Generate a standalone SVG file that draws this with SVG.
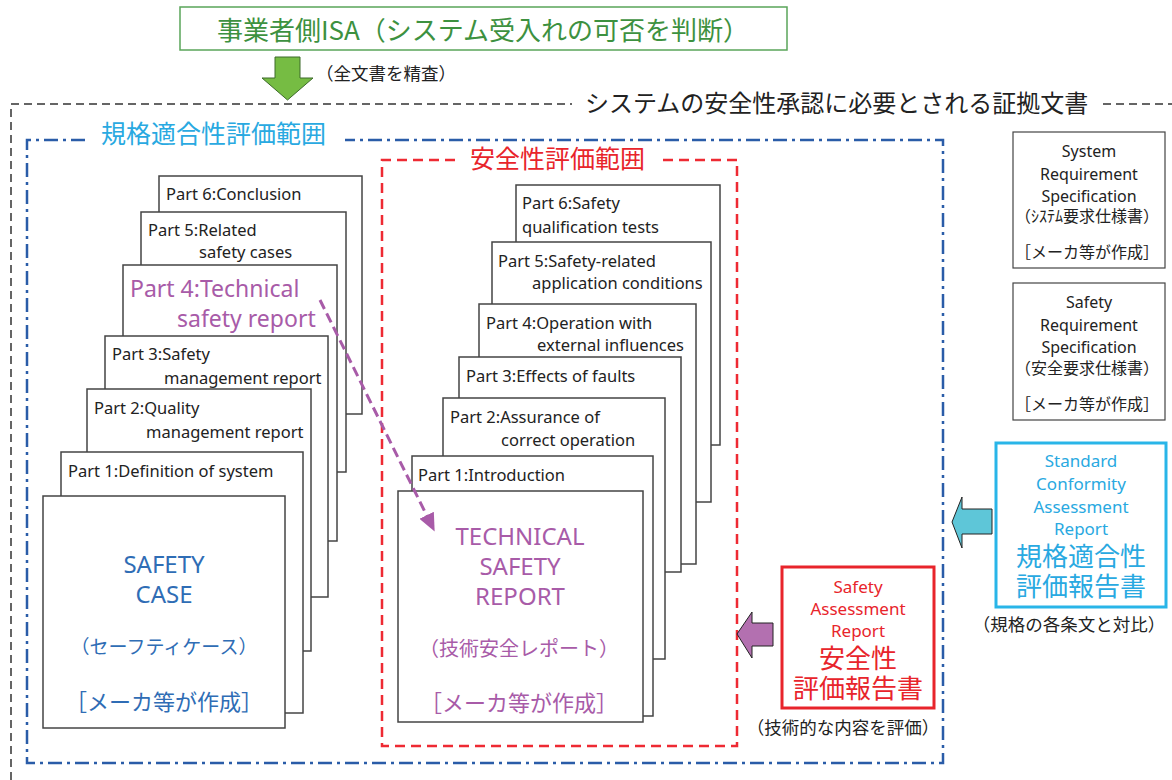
<svg xmlns="http://www.w3.org/2000/svg" width="1172" height="780" viewBox="0 0 1172 780">
<defs>
<style>
text{font-family:"Noto Sans","Noto Sans CJK JP",sans-serif;fill:#222}
.jp{font-family:"Noto Sans CJK JP","Noto Sans",sans-serif}
.pg{fill:#fff;stroke:#444;stroke-width:1.5}
.p{font-size:16.5px}
.c{text-anchor:middle}
.pur{fill:#a85ba8}
.blu{fill:#2f6db5}
.cy{fill:#29a9e1}
.red{fill:#e8242b}
.spec{font-size:16px;text-anchor:middle}
</style>
<marker id="ah" markerUnits="userSpaceOnUse" markerWidth="18" markerHeight="16" viewBox="0 0 18 16" refX="3" refY="8" orient="auto">
<path d="M0,0 L18,8 L0,16 z" fill="#a85ba8"/>
</marker>
</defs>
<rect width="1172" height="780" fill="#fff"/>

<!-- outer evidence frame -->
<g id="evidence-frame">
<path d="M11,780 V104 H572 M1103,104 H1172" fill="none" stroke="#333" stroke-width="1.5" stroke-dasharray="8 5"/>
<text class="jp" x="585" y="112" font-size="24">システムの安全性承認に必要とされる証拠文書</text>
</g>

<!-- ISA top -->
<g id="isa">
<rect x="180" y="7" width="607" height="43" fill="#fff" stroke="#5aa55a" stroke-width="1.5"/>
<text class="jp c" x="483" y="40" font-size="26" style="fill:#3d9140">事業者側ISA（システム受入れの可否を判断）</text>
</g>

<!-- conformity scope -->
<g id="conformity-scope">
<path d="M85,140 H27 V763 H943 V140 H345" fill="none" stroke="#2a5ca8" stroke-width="2.5" stroke-dasharray="14 5 3 5"/>
<text class="jp cy" x="101" y="143" font-size="25">規格適合性評価範囲</text>
</g>

<!-- safety scope -->
<g id="safety-scope">
<path d="M455,160 H382 V746 H737 V160 H662" fill="none" stroke="#ee2a33" stroke-width="2.5" stroke-dasharray="10 6"/>
<text class="jp red" x="470" y="168" font-size="25">安全性評価範囲</text>
</g>

<!-- Safety case stack -->
<g id="sc-part6"><rect class="pg" x="159" y="176" width="203" height="238"/><text class="p" x="166" y="200">Part 6:Conclusion</text></g>
<g id="sc-part5"><rect class="pg" x="141" y="212" width="205" height="260"/><text class="p" x="148" y="236">Part 5:Related</text><text class="p" x="199" y="258">safety cases</text></g>
<g id="sc-part4"><rect class="pg" x="123" y="265" width="214" height="276"/><text class="pur" x="130" y="297" font-size="23">Part 4:Technical</text><text class="pur" x="177" y="327" font-size="23">safety report</text></g>
<g id="sc-part3"><rect class="pg" x="105" y="336" width="223" height="261"/><text class="p" x="112" y="360">Part 3:Safety</text><text class="p" x="164" y="384">management report</text></g>
<g id="sc-part2"><rect class="pg" x="87" y="389" width="224" height="262"/><text class="p" x="94" y="414">Part 2:Quality</text><text class="p" x="146" y="438">management report</text></g>
<g id="sc-part1"><rect class="pg" x="61" y="452" width="242" height="261"/><text class="p" x="68" y="477">Part 1:Definition of system</text></g>
<g id="safety-case">
<rect class="pg" x="43" y="496" width="242" height="232"/>
<text class="c blu" x="164" y="573" font-size="24">SAFETY</text>
<text class="c blu" x="164" y="603" font-size="24">CASE</text>
<text class="jp c blu" x="164" y="654" font-size="19">（セーフティケース）</text>
<text class="jp c blu" x="164" y="710" font-size="22">［メーカ等が作成］</text>
</g>

<!-- Technical safety report stack -->
<g id="tsr-part6"><rect class="pg" x="516" y="185" width="204" height="260"/><text class="p" x="522" y="209">Part 6:Safety</text><text class="p" x="522" y="233">qualification tests</text></g>
<g id="tsr-part5"><rect class="pg" x="492" y="242" width="219" height="260"/><text class="p" x="498" y="267">Part 5:Safety-related</text><text class="p" x="532" y="289">application conditions</text></g>
<g id="tsr-part4"><rect class="pg" x="479" y="304" width="217" height="260"/><text class="p" x="486" y="329">Part 4:Operation with</text><text class="p" x="537" y="351">external influences</text></g>
<g id="tsr-part3"><rect class="pg" x="459" y="357" width="222" height="215"/><text class="p" x="466" y="382">Part 3:Effects of faults</text></g>
<g id="tsr-part2"><rect class="pg" x="443" y="398" width="222" height="261"/><text class="p" x="450" y="423">Part 2:Assurance of</text><text class="p" x="501" y="446">correct operation</text></g>
<g id="tsr-part1"><rect class="pg" x="412" y="456" width="241" height="260"/><text class="p" x="418" y="481">Part 1:Introduction</text></g>
<g id="technical-safety-report">
<rect class="pg" x="398" y="491" width="245" height="231"/>
<text class="c pur" x="520" y="545" font-size="24">TECHNICAL</text>
<text class="c pur" x="520" y="575" font-size="24">SAFETY</text>
<text class="c pur" x="520" y="605" font-size="24">REPORT</text>
<text class="jp c pur" x="519" y="656" font-size="20">（技術安全レポート）</text>
<text class="jp c pur" x="519" y="711" font-size="22">［メーカ等が作成］</text>
</g>

<!-- Right spec boxes -->
<g id="system-req-spec">
<rect x="1013" y="132" width="152" height="136" fill="#fff" stroke="#444" stroke-width="1.2"/>
<text class="spec" x="1089" y="157">System</text>
<text class="spec" x="1089" y="180">Requirement</text>
<text class="spec" x="1089" y="202">Specification</text>
<text class="spec jp" x="1087" y="222" font-size="16.5">（ｼｽﾃﾑ要求仕様書）</text>
<text class="spec jp" x="1087" y="258" font-size="16.5">［メーカ等が作成］</text>
</g>
<g id="safety-req-spec">
<rect x="1013" y="283" width="152" height="137" fill="#fff" stroke="#444" stroke-width="1.2"/>
<text class="spec" x="1089" y="308">Safety</text>
<text class="spec" x="1089" y="331">Requirement</text>
<text class="spec" x="1089" y="353">Specification</text>
<text class="spec jp" x="1087" y="374" font-size="16.5">（安全要求仕様書）</text>
<text class="spec jp" x="1087" y="410" font-size="16.5">［メーカ等が作成］</text>
</g>

<g id="standard-conformity-report">
<rect x="996" y="443" width="170" height="164" fill="#fff" stroke="#29b5e8" stroke-width="3"/>
<text class="c cy" x="1081" y="467" font-size="17">Standard</text>
<text class="c cy" x="1081" y="490" font-size="17">Conformity</text>
<text class="c cy" x="1081" y="513" font-size="17">Assessment</text>
<text class="c cy" x="1081" y="535" font-size="17">Report</text>
<text class="jp c cy" x="1081" y="566" font-size="26">規格適合性</text>
<text class="jp c cy" x="1081" y="596" font-size="26">評価報告書</text>
<text class="jp c" x="1069" y="631" font-size="17.5">（規格の各条文と対比）</text>
</g>

<g id="safety-assessment-report">
<rect x="782" y="567" width="152" height="141" fill="#fff" stroke="#e8242b" stroke-width="3"/>
<text class="c red" x="858" y="593" font-size="17">Safety</text>
<text class="c red" x="858" y="615" font-size="17">Assessment</text>
<text class="c red" x="858" y="637" font-size="17">Report</text>
<text class="jp c red" x="858" y="668" font-size="26">安全性</text>
<text class="jp c red" x="858" y="698" font-size="26">評価報告書</text>
<text class="jp c" x="843" y="734" font-size="17.5">（技術的な内容を評価）</text>
</g>

<!-- connectors -->
<g id="connectors">
<polygon points="275,57 300,57 300,78 313,78 287.5,100 262,78 275,78" fill="#76bc43" stroke="#3c6b2a" stroke-width="1"/>
<text class="jp" x="316" y="80" font-size="17.5">（全文書を精査）</text>
<polygon points="992,509 962,509 962,497 952,522 962,548 962,534 992,534" fill="#5ec6d8" stroke="#222" stroke-width="1"/>
<polygon points="773,623 752,623 752,612 737,634 752,658 752,646 773,646" fill="#b370b0" stroke="#222" stroke-width="1"/>
<line x1="320" y1="300" x2="428" y2="518" stroke="#a85ba8" stroke-width="3" stroke-dasharray="10 5" marker-end="url(#ah)"/>
</g>
</svg>
